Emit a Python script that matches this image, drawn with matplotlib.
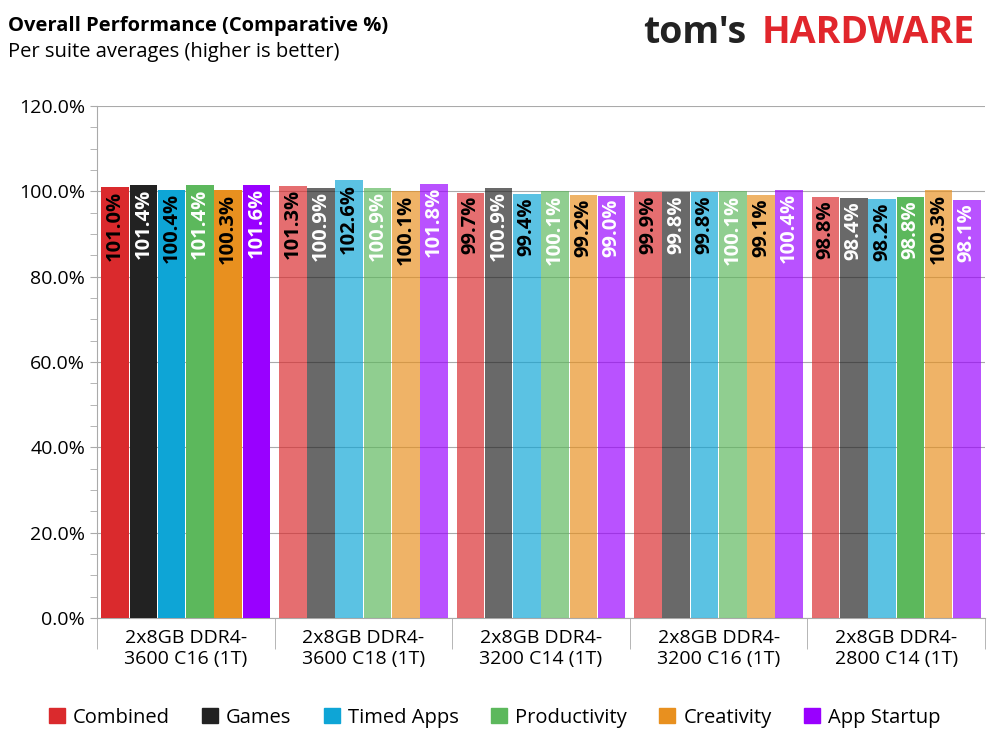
import matplotlib
matplotlib.use("Agg")
import matplotlib.pyplot as plt
import numpy as np
from matplotlib.ticker import MultipleLocator

categories = ["2x8GB DDR4-\n3600 C16 (1T)", "2x8GB DDR4-\n3600 C18 (1T)", "2x8GB DDR4-\n3200 C14 (1T)",
              "2x8GB DDR4-\n3200 C16 (1T)", "2x8GB DDR4-\n2800 C14 (1T)"]
series = ["Combined", "Games", "Timed Apps", "Productivity", "Creativity", "App Startup"]
values = [
    [101.0, 101.3, 99.7, 99.9, 98.8],
    [101.4, 100.9, 100.9, 99.8, 98.4],
    [100.4, 102.6, 99.4, 99.8, 98.2],
    [101.4, 100.9, 100.1, 100.1, 98.8],
    [100.3, 100.1, 99.2, 99.1, 100.3],
    [101.6, 101.8, 99.0, 100.4, 98.1],
]
colors = ["#da2a2d", "#222222", "#0ea5d6", "#5cb85c", "#e8901f", "#9900ff"]
label_colors = ["black", "white", "black", "white", "black", "white"]
solid = {(3, 4)}

plt.rcParams['font.family'] = ['Open Sans', 'DejaVu Sans']
fig = plt.figure(figsize=(9.89, 7.42), dpi=100)
ax = fig.add_axes([0.098, 0.167, 0.898, 0.69])
n = len(series)
w = 0.159
x = np.arange(len(categories))
for i in range(n):
    for j in range(len(categories)):
        a = 1.0 if (j == 0 or (i, j) in solid) else 0.68
        xp = x[j] + (i - (n - 1) / 2) * w
        ax.bar(xp, values[i][j], w * 0.98, color=colors[i], alpha=a, zorder=3)
        ax.text(xp, values[i][j] - 0.8, f"{values[i][j]:.1f}%", rotation=90, ha='center', va='top',
                color=label_colors[i], fontsize=14.5, fontweight='bold', zorder=4)
ax.set_ylim(0, 120)
ax.set_xlim(-0.5, 4.5)
ax.yaxis.set_minor_locator(MultipleLocator(5))
ax.set_yticks(np.arange(0, 121, 20))
ax.set_yticklabels([f"{v:.1f}%" for v in np.arange(0, 121, 20)], fontsize=14)
ax.set_xticks(x)
ax.set_xticklabels(categories, fontsize=14)
ax.set_xticks(np.arange(-0.5, 4.6, 1), minor=True)
ax.tick_params(axis='x', which='major', length=0, pad=8)
ax.tick_params(axis='x', which='minor', length=22, color='#aaaaaa')
ax.tick_params(axis='y', which='both', color='#aaaaaa', length=5)
ax.grid(axis='y', color='#aaaaaa', zorder=0)
for s in ['top', 'right']:
    ax.spines[s].set_visible(False)
ax.spines['left'].set_color('#aaaaaa')
ax.spines['bottom'].set_color('#aaaaaa')

from matplotlib.patches import Patch
handles = [Patch(color=c) for c in colors]
fig.legend(handles, series, loc='lower center', ncol=6, frameon=False, fontsize=14.5,
           bbox_to_anchor=(0.5, -0.005), handlelength=0.8, handleheight=0.8, columnspacing=1.6, handletextpad=0.4)
fig.text(0.008, 0.965, "Overall Performance (Comparative %)", fontsize=14.5, fontweight='bold', va='center')
fig.text(0.008, 0.93, "Per suite averages (higher is better)", fontsize=14.5, va='center')
fig.text(0.65, 0.955, "tom's", fontsize=27, fontweight='bold', color='#222222', va='center')
fig.text(0.77, 0.955, "HARDWARE", fontsize=27, fontweight='bold', color='#e1262c', va='center')
fig.savefig("out.png", dpi=100)
